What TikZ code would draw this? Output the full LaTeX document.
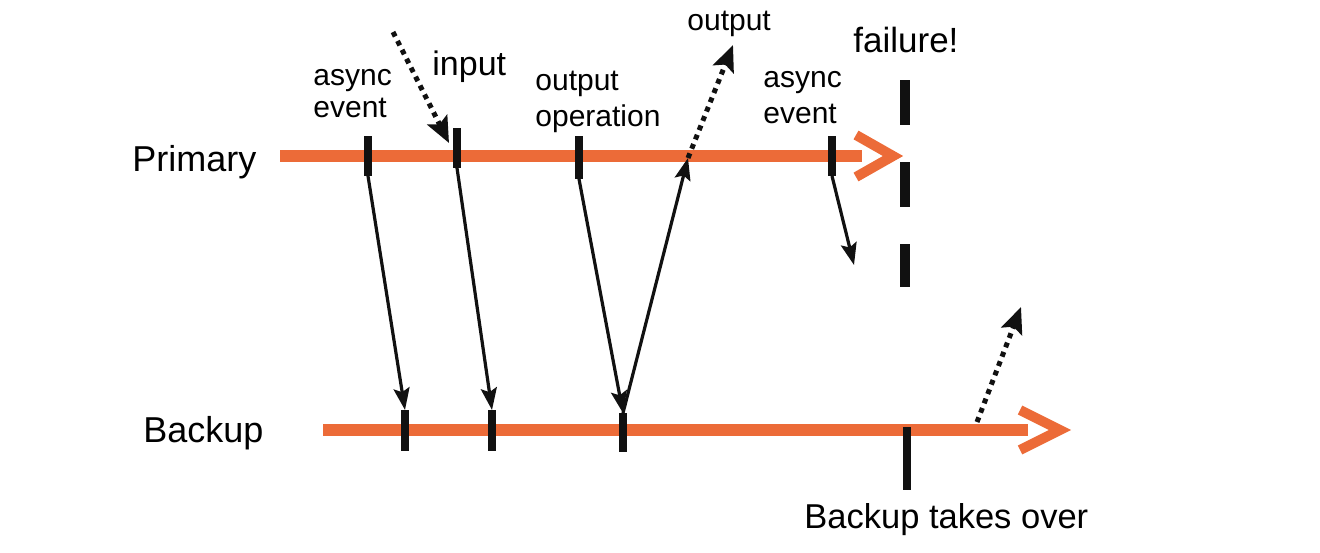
\documentclass[tikz,border=0pt]{standalone}
\usepackage{fontspec}
\setmainfont{Liberation Sans}
\usepackage{tikz}
\usetikzlibrary{
  arrows.meta,
  positioning,
}
\definecolor{trackc}{HTML}{EC6B38}
\definecolor{ink}{HTML}{111111}
\tikzset{
  >=Stealth,
  track/.style={draw=trackc, line width=6pt},
  chevron/.style={draw=trackc, line width=5pt, miter limit=10},
  tickmark/.style={draw=ink, line width=4pt},
  failure/.style={draw=ink, line width=5pt, dash pattern=on 22.5pt off 18.5pt},
  msg/.style={draw=ink, line width=1.6pt, -{Stealth[length=11pt,width=8pt,inset=2pt]}},
  ext/.style={draw=ink, line width=2.5pt, dash pattern=on 2.5pt off 2.5pt, -{Stealth[length=13pt,width=11pt,inset=2.5pt]}},
  biglabel/.style={font=\fontsize{17.5}{20}\selectfont, inner sep=0pt, anchor=base west},
  smalllabel/.style={font=\fontsize{15}{#1}\selectfont, align=left, inner sep=0pt, anchor=base west},
}

\begin{document}
\begin{tikzpicture}[x=0.5pt,y=-0.5pt]
  \useasboundingbox (0,0) rectangle (1320,552);

  % primary timeline
  \coordinate (pstart) at (280,156);
  \coordinate (pend) at (862,156);
  \coordinate (ptip) at (893,156);
  \draw[track] (pstart) -- (pend);
  \draw[chevron] ([shift={(-37,-21)}]ptip) -- (ptip) -- ([shift={(-37,21)}]ptip);

  % backup timeline
  \coordinate (bstart) at (323,430);
  \coordinate (bend) at (1028,430);
  \coordinate (btip) at (1060,430);
  \draw[track] (bstart) -- (bend);
  \draw[chevron] ([shift={(-40,-20)}]btip) -- (btip) -- ([shift={(-40,20)}]btip);

  % event ticks
  \foreach \n/\x/\t/\b in {pa/368/136/176, pi/457/128/168, po/579/136/179, pb/832/136/176,
                           ba/405/410/451, bi/492/410/451, bo/623/413/452, bt/907/427/490} {
    \coordinate (\n t) at (\x,\t);
    \coordinate (\n b) at (\x,\b);
    \draw[tickmark] (\n t) -- (\n b);
  }

  % failure line
  \coordinate (ftop) at (905,80);
  \coordinate (fbot) at (905,287);
  \draw[failure] (ftop) -- (fbot);

  % outside world
  \coordinate (inp) at (393,32);
  \coordinate (inq) at (449,143);
  \coordinate (px) at (688,158);
  \coordinate (outq) at (733,45);
  \coordinate (bx) at (977,422);
  \coordinate (boutq) at (1021,307);
  \coordinate (lost) at (854,265);
  \draw[ext] (inp) -- (inq);
  \draw[ext] (px) -- (outq);
  \draw[ext] (bx) -- (boutq);

  % log messages
  \draw[msg] (pab) -- (bat);
  \draw[msg] (pib) -- (bit);
  \draw[msg] (pob) -- (bot);
  \draw[msg] (bot) -- (px);
  \draw[msg] (pbb) -- (lost);

  % labels
  \node[biglabel, font=\fontsize{18}{20}\selectfont] (primary) at (132,171) {Primary};
  \node[biglabel, font=\fontsize{18}{20}\selectfont] (backup) at (143,442) {Backup};
  \node[smalllabel=16] (async1) at (313,117) {async\\event};
  \node[biglabel, font=\fontsize{17}{20}\selectfont] (input) at (432,75) {input};
  \node[smalllabel=18] (outop) at (535,126) {output\\operation};
  \node[smalllabel=18] (output) at (687,30) {output};
  \node[biglabel] (fail) at (853,52) {failure!};
  \node[smalllabel=18] (async2) at (763,123) {async\\event};
  \node[biglabel, font=\fontsize{17.25}{20}\selectfont] (takeover) at (804,528) {Backup takes over};
\end{tikzpicture}
\end{document}
